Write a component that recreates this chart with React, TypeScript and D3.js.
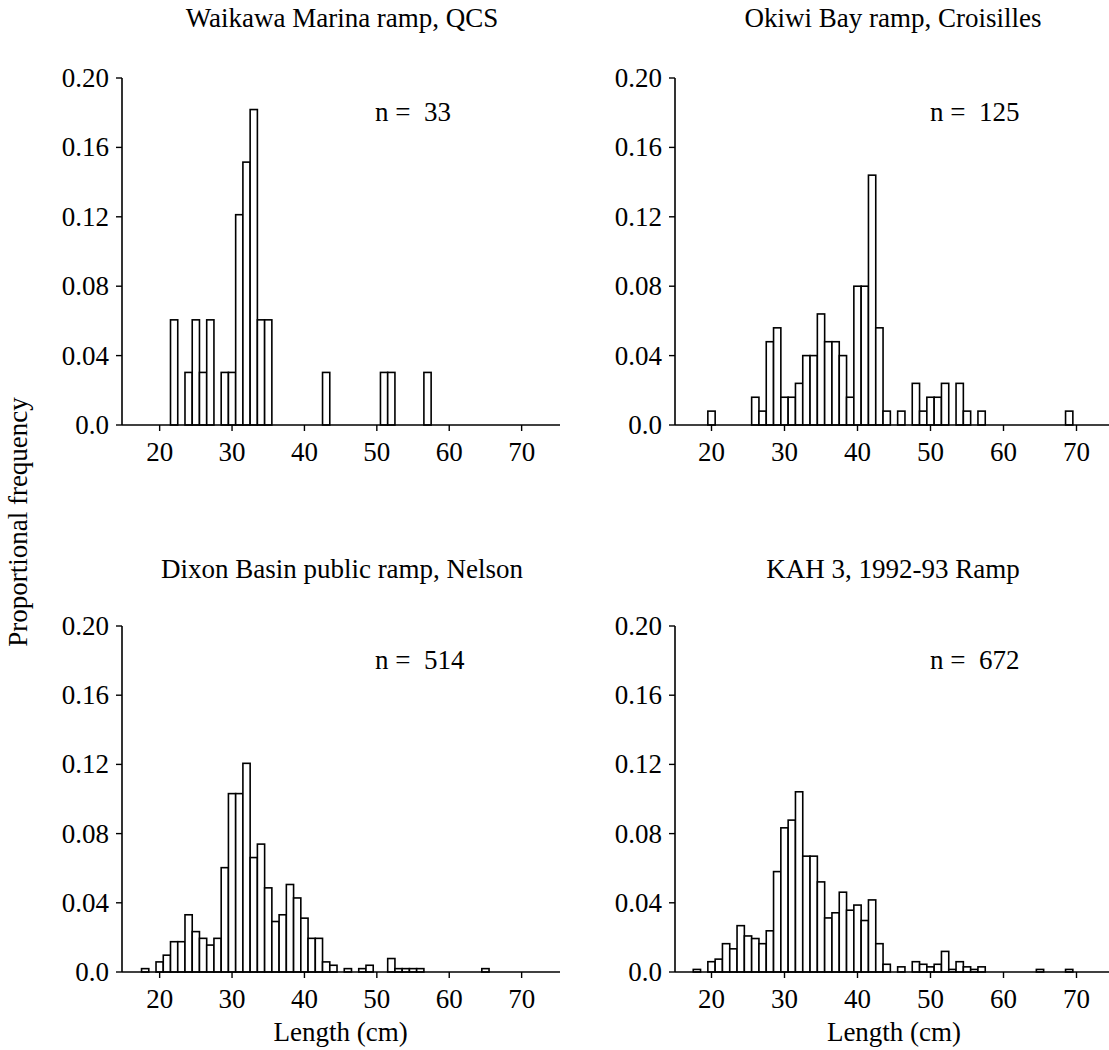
import React from "react";
import * as d3 from "d3";

const yTicks = [0, 0.04, 0.08, 0.12, 0.16, 0.2];
const yTickLabels = ["0.0", "0.04", "0.08", "0.12", "0.16", "0.20"];
const xTicks = [20, 30, 40, 50, 60, 70];

const waikawaLengths = [22, 24, 25, 26, 27, 29, 30, 31, 32, 33, 34, 35, 43, 51, 52, 57];
const waikawaCounts = [2, 1, 2, 1, 2, 1, 1, 4, 5, 6, 2, 2, 1, 1, 1, 1];

const okiwiLengths = [20, 26, 27, 28, 29, 30, 31, 32, 33, 34, 35, 36, 37, 38, 39, 40, 41, 42, 43, 44, 46, 48, 49, 50, 51, 52, 54, 55, 57, 69];
const okiwiCounts = [1, 2, 1, 6, 7, 2, 2, 3, 5, 5, 8, 6, 6, 5, 2, 10, 10, 18, 7, 1, 1, 3, 1, 2, 2, 3, 3, 1, 1, 1];

const dixonLengths = [18, 20, 21, 22, 23, 24, 25, 26, 27, 28, 29, 30, 31, 32, 33, 34, 35, 36, 37, 38, 39, 40, 41, 42, 43, 44, 46, 48, 49, 52, 53, 54, 55, 56, 65];
const dixonCounts = [1, 3, 5, 9, 9, 17, 12, 10, 8, 10, 31, 53, 53, 62, 34, 38, 25, 15, 17, 26, 22, 16, 10, 10, 3, 2, 1, 1, 2, 4, 1, 1, 1, 1, 1];

const kahLengths = [18, 20, 21, 22, 23, 24, 25, 26, 27, 28, 29, 30, 31, 32, 33, 34, 35, 36, 37, 38, 39, 40, 41, 42, 43, 44, 46, 48, 49, 50, 51, 52, 53, 54, 55, 56, 57, 65, 69];
const kahCounts = [1, 4, 5, 11, 9, 18, 14, 13, 11, 16, 39, 56, 59, 70, 45, 45, 35, 21, 23, 31, 24, 26, 20, 28, 11, 3, 2, 4, 3, 2, 3, 8, 1, 4, 2, 1, 2, 1, 1];

const panelTitles = [
  "Waikawa Marina ramp, QCS",
  "Okiwi Bay ramp, Croisilles",
  "Dixon Basin public ramp, Nelson",
  "KAH 3, 1992-93 Ramp",
];
const panelN = [33, 125, 514, 672];

const FONT = "'Liberation Serif', 'Times New Roman', serif";
const FS = 27;

type PanelProps = {
  title: string;
  n: number;
  lengths: number[];
  counts: number[];
  axisX: number;
  axisEnd: number;
  xDomain: [number, number];
  xRange: [number, number];
  top: number;
  base: number;
  titleX: number;
  titleY: number;
  nX: number;
  showXLabel: boolean;
};

function Panel(p: PanelProps) {
  const x = d3.scaleLinear().domain(p.xDomain).range(p.xRange);
  const y = d3.scaleLinear().domain([0, 0.2]).range([p.base, p.top]);
  const total = d3.sum(p.counts);
  const bars = p.lengths.map((L, i) => ({ L, v: p.counts[i] / total }));
  return (
    <g>
      <text x={p.titleX} y={p.titleY} textAnchor="middle" fontFamily={FONT} fontSize={FS}>
        {p.title}
      </text>
      {bars.map((b) => (
        <rect
          key={b.L}
          x={x(b.L - 0.5)}
          y={y(b.v)}
          width={x(b.L + 0.5) - x(b.L - 0.5)}
          height={p.base - y(b.v)}
          fill="#fff"
          stroke="#000"
          strokeWidth={1.6}
        />
      ))}
      <line x1={p.axisX} x2={p.axisX} y1={y(0.2)} y2={p.base} stroke="#000" strokeWidth={1.6} />
      <line x1={p.axisX} x2={p.axisEnd} y1={p.base} y2={p.base} stroke="#000" strokeWidth={1.6} />
      {yTicks.map((t, i) => (
        <g key={t}>
          <line x1={p.axisX - 6} x2={p.axisX} y1={y(t)} y2={y(t)} stroke="#000" strokeWidth={1.4} />
          <text
            x={p.axisX - 13}
            y={y(t) + 9}
            textAnchor="end"
            fontFamily={FONT}
            fontSize={FS}
          >
            {yTickLabels[i]}
          </text>
        </g>
      ))}
      {xTicks.map((t) => (
        <g key={t}>
          <line x1={x(t)} x2={x(t)} y1={p.base} y2={p.base + 6} stroke="#000" strokeWidth={1.4} />
          <text x={x(t)} y={p.base + 36} textAnchor="middle" fontFamily={FONT} fontSize={FS}>
            {t}
          </text>
        </g>
      ))}
      <text x={p.nX} y={y(0.2) + 43} fontFamily={FONT} fontSize={FS} style={{ whiteSpace: "pre" }}>
        {`n =  ${p.n}`}
      </text>
      {p.showXLabel && (
        <text x={x(45)} y={p.base + 69} textAnchor="middle" fontFamily={FONT} fontSize={FS}>
          Length (cm)
        </text>
      )}
    </g>
  );
}

export default function App() {
  const leftCfg = { axisX: 122, axisEnd: 560, xDomain: [14.8, 75.3] as [number, number], xRange: [122, 560] as [number, number], titleX: 342, nX: 375 };
  const rightCfg = { axisX: 675, axisEnd: 1109, xDomain: [15, 75] as [number, number], xRange: [675, 1113] as [number, number], titleX: 893, nX: 930 };
  return (
    <svg
      width={1109}
      height={1050}
      style={{ position: "absolute", left: 0, top: 0, background: "#fff" }}
    >
      <rect x={0} y={0} width={1109} height={1050} fill="#fff" />
      <Panel {...leftCfg} title={panelTitles[0]} n={panelN[0]} lengths={waikawaLengths} counts={waikawaCounts} top={78} base={425} titleY={27} showXLabel={false} />
      <Panel {...rightCfg} title={panelTitles[1]} n={panelN[1]} lengths={okiwiLengths} counts={okiwiCounts} top={78} base={425} titleY={27} showXLabel={false} />
      <Panel {...leftCfg} title={panelTitles[2]} n={panelN[2]} lengths={dixonLengths} counts={dixonCounts} top={626} base={972} titleY={578} showXLabel={true} />
      <Panel {...rightCfg} title={panelTitles[3]} n={panelN[3]} lengths={kahLengths} counts={kahCounts} top={626} base={972} titleY={578} showXLabel={true} />
      <text
        transform="translate(27,522) rotate(-90)"
        textAnchor="middle"
        fontFamily={FONT}
        fontSize={FS}
      >
        Proportional frequency
      </text>
    </svg>
  );
}
